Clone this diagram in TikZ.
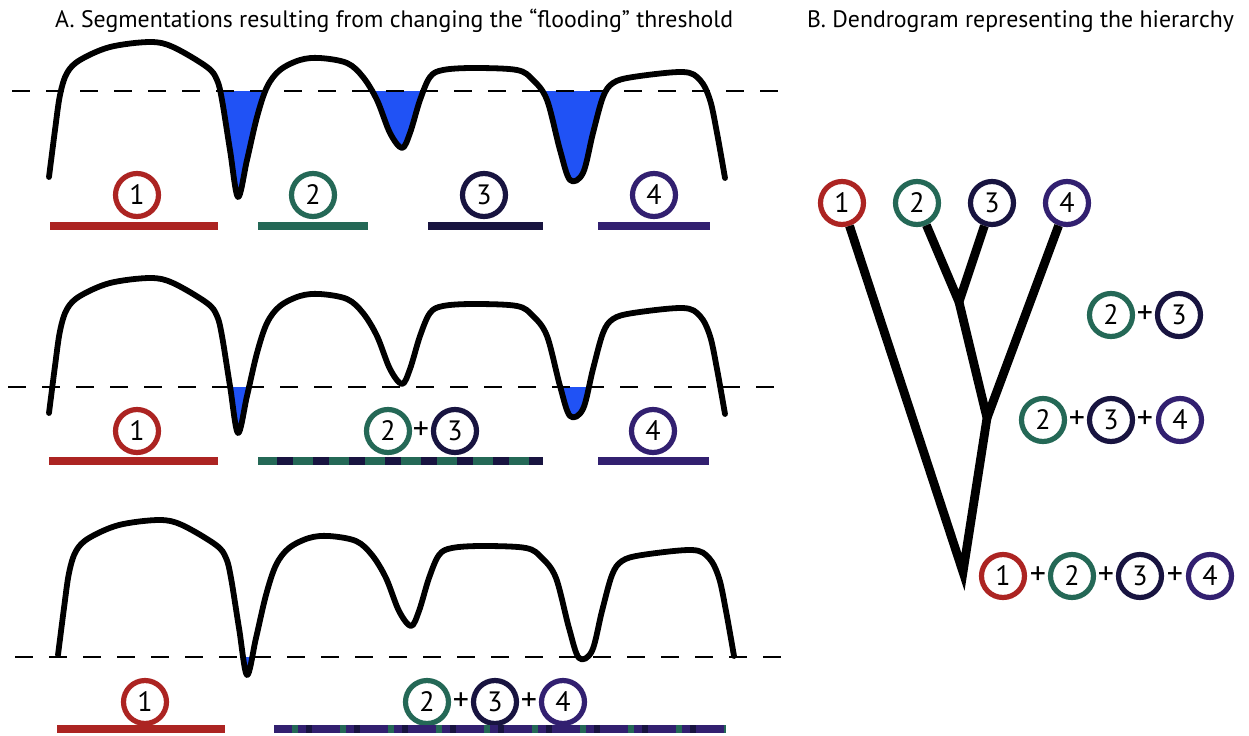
\documentclass[tikz,border=0pt]{standalone}
\usepackage{fontspec}
\setmainfont{PT Sans}
\definecolor{segA}{RGB}{172,36,34}
\definecolor{segB}{RGB}{36,104,86}
\definecolor{segC}{RGB}{24,20,64}
\definecolor{segD}{RGB}{50,32,112}
\definecolor{water}{RGB}{32,82,245}
% the watershed relief, drawn once and reused in every row
\def\ridge{plot[smooth,tension=0.55] coordinates {
 (49,177) (55,130) (60,95) (67,73) (80,60) (110,47) (150,42) (173,47) (207,67)
 (217,80) (222,100) (230,150) (238,197) (247,160) (257,117) (267,87) (280,70)
 (300,60) (320,58) (347,63) (363,77) (377,100) (390,133) (402,148) (410,133)
 (420,100) (430,77) (443,70) (473,68) (517,70) (533,80) (547,100) (560,150)
 (570,180) (583,173) (593,133) (603,97) (613,83) (633,77) (683,72) (700,80)
 (710,100) (717,133) (725,178)}}
\begin{document}
\begin{tikzpicture}[x=0.5pt,y=-0.5pt,
  relief/.style={line width=2.9pt,line join=round,line cap=round},
  level/.style={line width=1.2pt,dash pattern=on 9pt off 8pt},
  bar/.style={line width=3.6pt},
  seg/.style={circle,draw,line width=2.6pt,minimum size=21.5pt,inner sep=0pt,
    font=\fontsize{14}{14}\selectfont},
  plus/.style={inner sep=0pt,font=\fontsize{16}{16}\selectfont},
  title/.style={anchor=base west,font=\fontsize{11.9}{13}\selectfont},
  branch/.style={line width=4.4pt,line join=miter}]
\useasboundingbox (0,0) rectangle (1249,735);

\node[title] (titleA) at (48,27) {A. Segmentations resulting from changing the “flooding” threshold};
\node[title] (titleB) at (800,27) {B. Dendrogram representing the hierarchy};

% ---- row 1: high threshold, four basins
\begin{scope}
  \clip (150,91) rectangle (680,300);
  \fill[water] \ridge -- (725,-60) -- (49,-60) -- cycle;
\end{scope}
\draw[level] (12,91) -- (782,91);
\draw[relief] \ridge;
\node[seg,draw=segA] (r1a) at (137,195) {1};
\node[seg,draw=segB] (r1b) at (313,195) {2};
\node[seg,draw=segC] (r1c) at (484,195) {3};
\node[seg,draw=segD] (r1d) at (654,195) {4};
\draw[bar,segA] (50,226) -- (218,226);
\draw[bar,segB] (258,226) -- (368,226);
\draw[bar,segC] (428,226) -- (543,226);
\draw[bar,segD] (598,226) -- (710,226);

% ---- row 2: basins 2 and 3 merged
\begin{scope}[shift={(0,236)}]
  \clip (150,151) rectangle (680,300);
  \fill[water] \ridge -- (725,-60) -- (49,-60) -- cycle;
\end{scope}
\draw[level] (8,387) -- (787,387);
\begin{scope}[shift={(0,236)}]
  \draw[relief] \ridge;
\end{scope}
\node[seg,draw=segA] (r2a) at (137,431) {1};
\node[seg,draw=segB] (r2b) at (388,431) {2};
\node[plus] (r2p) at (421,431) {+};
\node[seg,draw=segC] (r2c) at (455,431) {3};
\node[seg,draw=segD] (r2d) at (653,431) {4};
\draw[bar,segA] (49,461) -- (218,461);
\draw[bar,segB] (258,461) -- (543,461);
\draw[bar,segC,dash pattern=on 8pt off 10pt] (277,461) -- (543,461);
\draw[bar,segD] (598,461) -- (709,461);

% ---- row 3: basins 2, 3 and 4 merged
\begin{scope}[shift={(9,478)}]
  \clip (150,179) rectangle (680,300);
  \fill[water] \ridge -- (725,-60) -- (49,-60) -- cycle;
\end{scope}
\draw[level] (15,657) -- (790,657);
\begin{scope}[shift={(9,478)}]
  \draw[relief] \ridge;
\end{scope}
\node[seg,draw=segA] (r3a) at (145,702) {1};
\node[seg,draw=segB] (r3b) at (427,702) {2};
\node[plus] (r3p1) at (461,702) {+};
\node[seg,draw=segC] (r3c) at (495,702) {3};
\node[plus] (r3p2) at (529,702) {+};
\node[seg,draw=segD] (r3d) at (563,702) {4};
\draw[bar,segA] (57,729) -- (225,729);
\draw[bar,segD] (274,729) -- (726,729);
\draw[bar,segB,dash pattern=on 3pt off 21pt] (292,729) -- (726,729);
\draw[bar,segC,dash pattern=on 3pt off 21pt] (306,729) -- (726,729);

% ---- dendrogram
\node[seg,draw=segA] (d1) at (842,203) {1};
\node[seg,draw=segB] (d2) at (917,203) {2};
\node[seg,draw=segC] (d3) at (992,203) {3};
\node[seg,draw=segD] (d4) at (1067,203) {4};
\coordinate (j23) at (959,302);
\coordinate (j234) at (987,418);
\coordinate (root) at (963,572);
\draw[branch] (d1) -- (root) -- (j234) -- (j23);
\draw[branch] (d2) -- (j23) -- (d3);
\draw[branch] (d4) -- (j234);

% merged groups beside the tree
\node[seg,draw=segB] (m1b) at (1111,315) {2};
\node[plus] (m1p) at (1145,315) {+};
\node[seg,draw=segC] (m1c) at (1179,315) {3};

\node[seg,draw=segB] (m2b) at (1043,420) {2};
\node[plus] (m2p1) at (1077,420) {+};
\node[seg,draw=segC] (m2c) at (1111,420) {3};
\node[plus] (m2p2) at (1145,420) {+};
\node[seg,draw=segD] (m2d) at (1180,420) {4};

\node[seg,draw=segA] (m3a) at (1003,576) {1};
\node[plus] (m3p1) at (1038,576) {+};
\node[seg,draw=segB] (m3b) at (1072,576) {2};
\node[plus] (m3p2) at (1106,576) {+};
\node[seg,draw=segC] (m3c) at (1140,576) {3};
\node[plus] (m3p3) at (1175,576) {+};
\node[seg,draw=segD] (m3d) at (1210,576) {4};
\end{tikzpicture}
\end{document}
